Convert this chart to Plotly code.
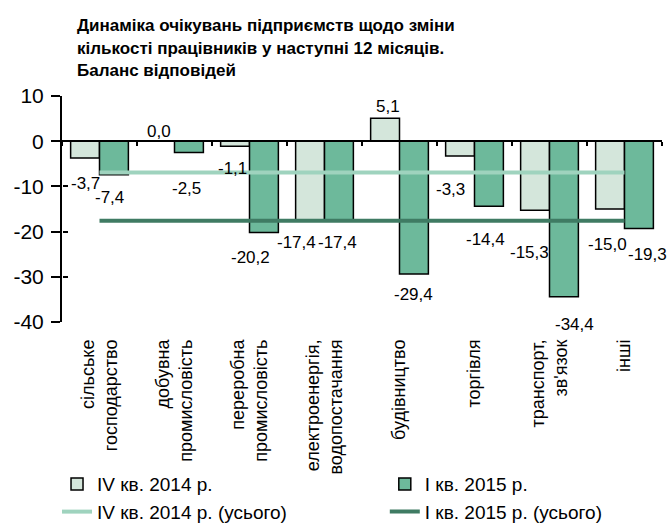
import plotly.graph_objects as go

categories = [
    "сільське<br>господарство",
    "добувна<br>промисловість",
    "переробна<br>промисловість",
    "електроенергія,<br>водопостачання",
    "будівництво",
    "торгівля",
    "транспорт,<br>зв'язок",
    "інші",
]
q4_2014 = [-3.7, 0.0, -1.1, -17.4, 5.1, -3.3, -15.3, -15.0]
q1_2015 = [-7.4, -2.5, -20.2, -17.4, -29.4, -14.4, -34.4, -19.3]
q4_2014_total = -6.9
q1_2015_total = -17.6
y_tickvals = [10, 0, -10, -20, -30, -40]
y_ticktext = ["10", "0", "-10", "-20", "-30", "-40"]

names = ["IV кв. 2014 р.", "I кв. 2015 р.",
         "IV кв. 2014 р. (усього)", "I кв. 2015 р. (усього)"]

# label nudges (px) mimicking the original label placement
light_dx = [0, -1, -3, -14, 3, -10, -6, -3]
light_dy = [26, 10, 22, 23, 12, 33, 42, 35]
dark_dx = [-4, -2, -13, -1, 0, -3, 11, 9]
dark_dy = [23, 36, 25, 23, 20, 33, 28, 26]

FONT = "Liberation Sans, Arial, sans-serif"
C_LIGHT = "#d4e6db"
C_DARK = "#6db99b"
C_LLINE = "#9fd3be"
C_DLINE = "#3f7b63"

n = len(categories)
xs = list(range(n))
bargap = 0.23
bw = (1 - bargap) / 2

fig = go.Figure()
fig.add_trace(go.Bar(x=xs, y=q4_2014, name=names[0], legend="legend",
                     marker=dict(color=C_LIGHT, line=dict(color="black", width=1.5))))
fig.add_trace(go.Bar(x=xs, y=q1_2015, name=names[1], legend="legend2",
                     marker=dict(color=C_DARK, line=dict(color="black", width=1.5))))
fig.add_trace(go.Scatter(x=xs, y=[q4_2014_total] * n, name=names[2], mode="lines", legend="legend",
                         line=dict(color=C_LLINE, width=4), xaxis="x2", yaxis="y2"))
fig.add_trace(go.Scatter(x=xs, y=[q1_2015_total] * n, name=names[3], mode="lines", legend="legend2",
                         line=dict(color=C_DLINE, width=4), xaxis="x2", yaxis="y2"))

def fmt(v):
    return f"{v:.1f}".replace(".", ",")

annotations = []
for i in range(n):
    for vals, dxs, dys, off in ((q4_2014, light_dx, light_dy, -bw / 2), (q1_2015, dark_dx, dark_dy, bw / 2)):
        v = vals[i]
        sign = 1 if v >= 0 else -1
        annotations.append(dict(
            x=i + off, y=v, xref="x", yref="y", text=fmt(v), showarrow=False,
            xshift=dxs[i], yshift=sign * dys[i], xanchor="center", yanchor="middle",
            font=dict(family=FONT, size=17, color="black")))

xr = [-0.5, n - 0.5]
yr = [-40, 10]
legend_common = dict(orientation="v", xanchor="left", yanchor="top", y=-0.633,
                     traceorder="normal", tracegroupgap=0,
                     font=dict(family=FONT, size=19, color="black"),
                     bgcolor="rgba(0,0,0,0)", borderwidth=0)
fig.update_layout(
    width=668, height=524,
    margin=dict(l=62, r=6, t=96, b=202, autoexpand=False),
    paper_bgcolor="white", plot_bgcolor="white",
    barmode="group", bargap=bargap, bargroupgap=0,
    font=dict(family=FONT, size=17, color="black"),
    title=dict(
        text="Динаміка очікувань підприємств щодо зміни<br>кількості працівників у наступні 12 місяців.<br>Баланс відповідей",
        x=77 / 668, xanchor="left", xref="container", y=0.94, yanchor="top", yref="container",
        font=dict(family=FONT, size=17, color="black", weight="bold")),
    xaxis=dict(range=xr, tickvals=xs, ticktext=categories, tickangle=-90, showgrid=False,
               zeroline=False, showline=False, ticks="", ticklabelstandoff=13, automargin=False,
               tickfont=dict(family=FONT, size=18)),
    xaxis2=dict(range=xr, overlaying="x", anchor="free", position=0.8, showline=True,
                linecolor="black", linewidth=2, ticks="outside", ticklen=4, tickwidth=1.5,
                tickcolor="black", tickvals=[k - 0.5 for k in range(n + 1)], automargin=False,
                showticklabels=False, showgrid=False, zeroline=False),
    yaxis=dict(range=yr, tickvals=y_tickvals, ticktext=y_ticktext, showgrid=False,
               zeroline=False, showline=True, linecolor="black", linewidth=2,
               ticks="outside", ticklen=9, tickwidth=1.5, tickcolor="black", automargin=False,
               ticklabelstandoff=3, tickfont=dict(family=FONT, size=21)),
    yaxis2=dict(range=yr, overlaying="y", anchor="free", position=0, side="left",
                tickvals=y_tickvals, ticks="inside", ticklen=5, tickwidth=1.5, automargin=False,
                tickcolor="black", showticklabels=False, showgrid=False,
                zeroline=False, showline=False),
    legend=dict(x=-0.0083, **legend_common),
    legend2=dict(x=0.538, **legend_common),
    annotations=annotations,
    showlegend=True,
)

fig.write_html("out.html", config={"displayModeBar": False},
               post_script="document.body.style.margin='0';")
